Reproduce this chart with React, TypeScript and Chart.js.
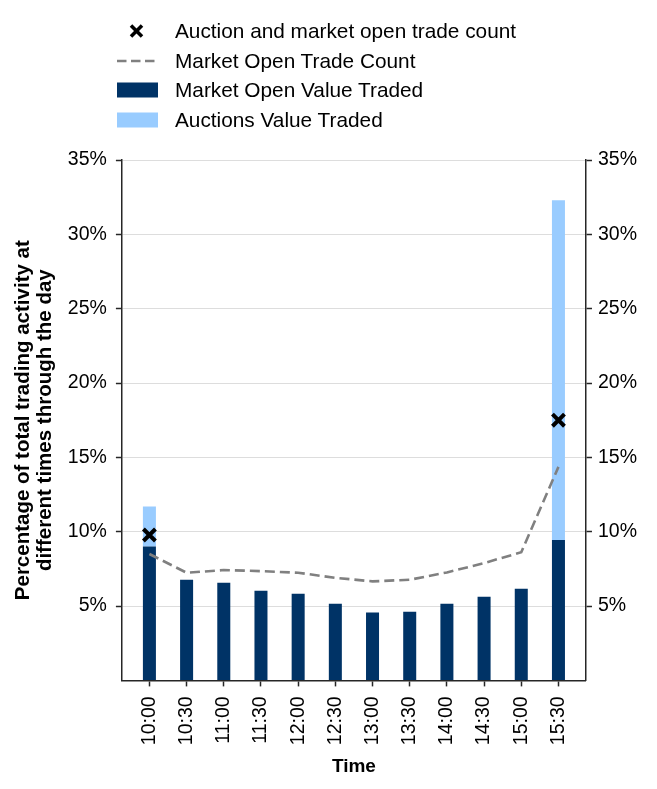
import React, { useEffect, useRef } from "react";
import { Chart, registerables } from "chart.js";

Chart.register(...registerables);

const categories = ["10:00", "10:30", "11:00", "11:30", "12:00", "12:30", "13:00", "13:30", "14:00", "14:30", "15:00", "15:30"];
const marketOpenValue = [9.0, 6.77, 6.57, 6.03, 5.83, 5.16, 4.56, 4.62, 5.16, 5.63, 6.17, 9.45];
const auctionsValue = [2.7, 0, 0, 0, 0, 0, 0, 0, 0, 0, 0, 22.85];
const marketOpenCount = [8.5, 7.24, 7.42, 7.35, 7.24, 6.9, 6.66, 6.77, 7.26, 7.89, 8.62, 14.36];
const auctionCountIdx = [0, 11];
const auctionCountVals = [9.78, 17.5];
const yTicks = [0, 5, 10, 15, 20, 25, 30, 35];

const DARK = "#003366";
const LIGHT = "#99CCFF";
const GREY = "#808080";
const AXIS = "#262626";
const FONT = "'Liberation Sans', Arial, sans-serif";

const legendItems = [
  { kind: "x", label: "Auction and market open trade count" },
  { kind: "dash", label: "Market Open Trade Count" },
  { kind: "dark", label: "Market Open Value Traded" },
  { kind: "light", label: "Auctions Value Traded" },
];

function LegendMark({ kind }: { kind: string }) {
  if (kind === "x") {
    return (
      <svg width={41} height={16}>
        <line x1={14} y1={2.5} x2={25} y2={13.5} stroke="#000" strokeWidth={3.6} />
        <line x1={25} y1={2.5} x2={14} y2={13.5} stroke="#000" strokeWidth={3.6} />
      </svg>
    );
  }
  if (kind === "dash") {
    return (
      <svg width={41} height={16}>
        <line x1={0} y1={8} x2={41} y2={8} stroke={GREY} strokeWidth={2.5} strokeDasharray="9.5 4.5" />
      </svg>
    );
  }
  return (
    <svg width={41} height={16}>
      <rect x={0} y={0.5} width={41} height={15} fill={kind === "dark" ? DARK : LIGHT} />
    </svg>
  );
}

export default function App() {
  const canvasRef = useRef<HTMLCanvasElement | null>(null);

  useEffect(() => {
    if (!canvasRef.current) return;
    const tickColorFn = (ctx: any) => (ctx.tick && ctx.tick.value === 0 ? "rgba(0,0,0,0)" : AXIS);
    const chart = new Chart(canvasRef.current, {
      type: "bar",
      data: {
        datasets: [
          {
            type: "bar",
            label: "Market Open Value Traded",
            data: marketOpenValue.map((y, x) => ({ x, y })),
            backgroundColor: DARK,
            barPercentage: 0.35,
            categoryPercentage: 1,
            stack: "bars",
            order: 2,
          } as any,
          {
            type: "bar",
            label: "Auctions Value Traded",
            data: auctionsValue.map((y, x) => ({ x, y })),
            backgroundColor: LIGHT,
            barPercentage: 0.35,
            categoryPercentage: 1,
            stack: "bars",
            order: 2,
          } as any,
          {
            type: "line",
            label: "Market Open Trade Count",
            data: marketOpenCount.map((y, x) => ({ x, y })),
            borderColor: GREY,
            borderWidth: 2.6,
            borderDash: [10, 5],
            pointRadius: 0,
            tension: 0,
            fill: false,
            stack: "line",
            order: 1,
          } as any,
          {
            type: "line",
            label: "Auction and market open trade count",
            data: auctionCountIdx.map((x, i) => ({ x, y: auctionCountVals[i] })),
            showLine: false,
            pointStyle: "crossRot",
            pointRadius: 8.5,
            pointBorderWidth: 4,
            borderColor: "#000",
            backgroundColor: "#000",
            stack: "marks",
            order: 0,
          } as any,
        ],
      },
      options: {
        animation: false,
        responsive: false,
        maintainAspectRatio: false,
        layout: { padding: { top: 160, left: 12, right: 14, bottom: 11 } },
        plugins: { legend: { display: false }, tooltip: { enabled: false } },
        scales: {
          x: {
            type: "linear",
            min: -0.74,
            max: 11.74,
            offset: false,
            stacked: true,
            afterBuildTicks: (axis: any) => {
              axis.ticks = categories.map((_, i) => ({ value: i }));
            },
            ticks: {
              autoSkip: false,
              minRotation: 90,
              maxRotation: 90,
              color: "#000",
              font: { family: FONT, size: 19.5 },
              padding: 10,
              callback: (v: any) => categories[Math.round(Number(v))] ?? "",
            },
            grid: { offset: false, drawOnChartArea: false, tickLength: 6, tickColor: AXIS, tickWidth: 1.5 },
            border: { color: AXIS, width: 1.5 },
            title: { display: true, text: "Time", color: "#000", font: { family: FONT, size: 19, weight: "bold" }, padding: { top: 0, bottom: 0 } },
          },
          y: {
            type: "linear",
            position: "left",
            min: 0,
            max: 35,
            stacked: true,
            afterBuildTicks: (axis: any) => {
              axis.ticks = yTicks.map((v) => ({ value: v }));
            },
            ticks: {
              color: "#000",
              font: { family: FONT, size: 19.5 },
              padding: 9,
              callback: (v: any) => (Number(v) === 0 ? "" : v + "%"),
            },
            grid: { color: "#dddddd", lineWidth: 1, tickLength: 6, tickColor: tickColorFn, tickWidth: 1.5 },
            border: { color: AXIS, width: 1.5 },
            title: {
              display: true,
              text: ["Percentage of total trading activity at", "different times through the day"],
              color: "#000",
              font: { family: FONT, size: 20.5, weight: "bold", lineHeight: 1.07 },
              padding: { top: 0, bottom: 3 },
            },
          },
          y2: {
            type: "linear",
            position: "right",
            min: 0,
            max: 35,
            afterBuildTicks: (axis: any) => {
              axis.ticks = yTicks.map((v) => ({ value: v }));
            },
            ticks: {
              color: "#000",
              font: { family: FONT, size: 19.5 },
              padding: 6,
              callback: (v: any) => (Number(v) === 0 ? "" : v + "%"),
            },
            grid: { drawOnChartArea: false, tickLength: 6, tickColor: tickColorFn, tickWidth: 1.5 },
            border: { color: AXIS, width: 1.5 },
          },
        },
      } as any,
    });
    return () => chart.destroy();
  }, []);

  return (
    <div style={{ position: "absolute", left: 0, top: 0, width: 657, height: 789, background: "#fff" }}>
      <canvas ref={canvasRef} width={657} height={789} style={{ position: "absolute", left: 0, top: 0, width: 657, height: 789 }} />
      <div style={{ position: "absolute", left: 117, top: 16, fontFamily: FONT, fontSize: 20.8, color: "#000" }}>
        {legendItems.map((it) => (
          <div key={it.label} style={{ display: "flex", alignItems: "center", height: 29.7 }}>
            <LegendMark kind={it.kind} />
            <span style={{ marginLeft: 17, lineHeight: "24px", whiteSpace: "nowrap" }}>{it.label}</span>
          </div>
        ))}
      </div>
    </div>
  );
}
